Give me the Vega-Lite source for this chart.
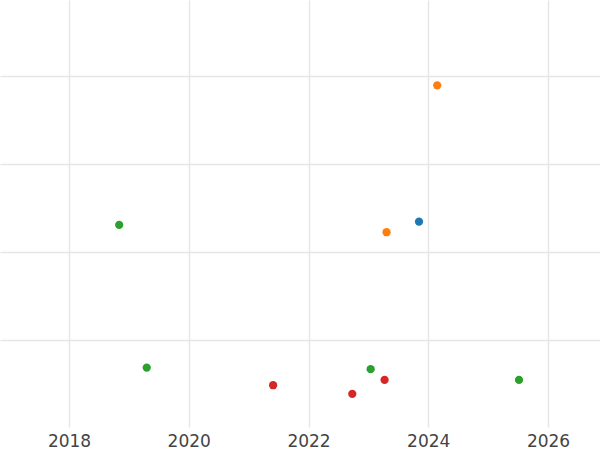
{
  "$schema": "https://vega.github.io/schema/vega-lite/v6.json",
  "width": 600,
  "height": 427,
  "padding": {"top": 0, "left": 0, "right": 0, "bottom": 23},
  "autosize": {"type": "none"},
  "background": "white",
  "config": {"view": {"stroke": null}},
  "data": {"values": [
    {"date": "2018-11-03", "value": 2.307, "series": "C"},
    {"date": "2019-04-20", "value": 0.685, "series": "C"},
    {"date": "2021-05-30", "value": 0.485, "series": "D"},
    {"date": "2022-09-25", "value": 0.386, "series": "D"},
    {"date": "2023-01-15", "value": 0.667, "series": "C"},
    {"date": "2023-04-10", "value": 0.545, "series": "D"},
    {"date": "2023-04-22", "value": 2.224, "series": "B"},
    {"date": "2023-11-06", "value": 2.344, "series": "A"},
    {"date": "2024-02-25", "value": 3.894, "series": "B"},
    {"date": "2025-07-08", "value": 0.545, "series": "C"}
  ]},
  "mark": {"type": "circle", "size": 68, "opacity": 1},
  "encoding": {
    "x": {
      "field": "date", "type": "temporal",
      "scale": {"domain": ["2016-11-06", "2026-11-14"]},
      "axis": {
        "title": null, "domain": false, "ticks": false,
        "values": ["2018-01-01", "2020-01-01", "2022-01-01", "2024-01-01", "2026-01-01"],
        "format": "%Y", "labelFontSize": 17, "labelFont": "DejaVu Sans",
        "labelColor": "#444444", "labelPadding": 6,
        "grid": true, "gridColor": "#e6e6e6", "gridWidth": 1.4
      }
    },
    "y": {
      "field": "value", "type": "quantitative",
      "scale": {"domain": [0.01, 4.864], "nice": false, "zero": false},
      "axis": {
        "title": null, "domain": false, "ticks": false, "labels": false,
        "values": [1, 2, 3, 4],
        "grid": true, "gridColor": "#e6e6e6", "gridWidth": 1.4
      }
    },
    "color": {
      "field": "series", "type": "nominal",
      "scale": {"domain": ["A", "B", "C", "D"], "range": ["#1f77b4", "#ff7f0e", "#2ca02c", "#d62728"]},
      "legend": null
    }
  }
}
